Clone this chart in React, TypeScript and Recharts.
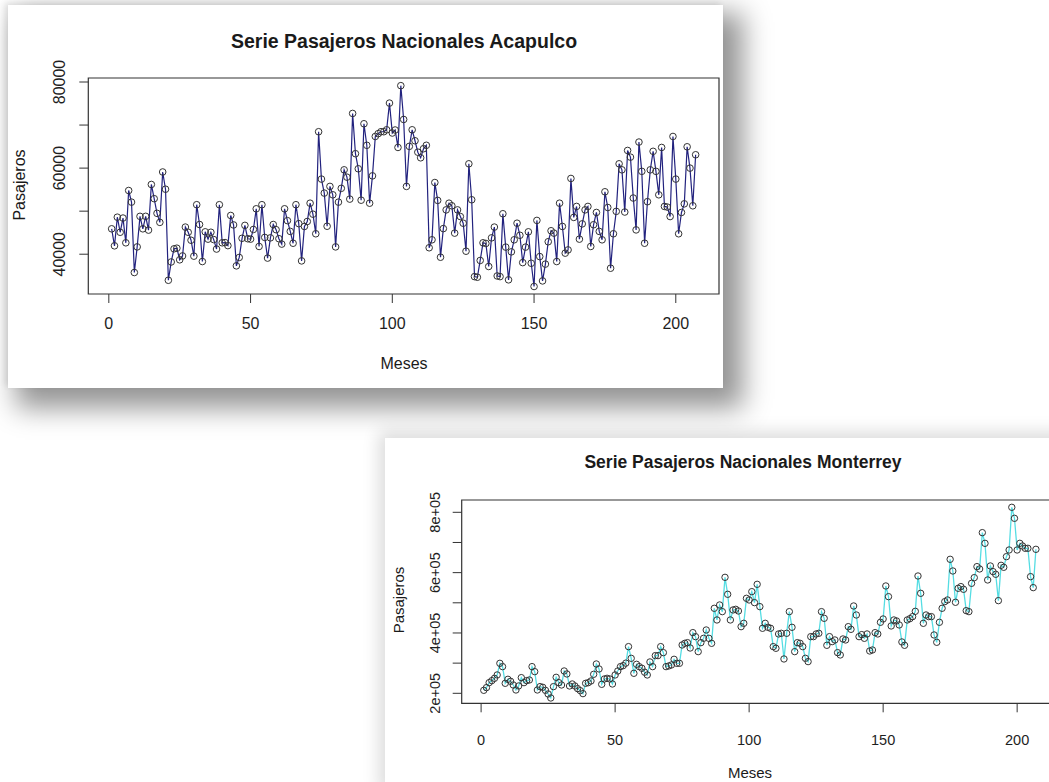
import React from 'react';
import { Line, LineChart, ReferenceArea, XAxis, YAxis } from 'recharts';

// Monthly national passenger series
const acapulco = [
	45900, 41950, 48600, 45100, 48400, 42650, 54800, 52100, 35750, 41700,
	48800, 45900, 48800, 45600, 56200, 52900, 49500, 47400, 59100, 55100,
	33950, 38200, 41250, 41400, 38700, 39600, 46300, 45100, 43250, 39550,
	51500, 46900, 38300, 45200, 43500, 45100, 43400, 41200, 51500, 42650,
	42700, 42000, 49000, 46800, 37300, 39250, 43700, 46700, 43600, 43500,
	45750, 50550, 41800, 51500, 43900, 39100, 43800, 46900, 45700, 43600,
	42350, 50550, 47800, 45300, 42550, 51500, 47100, 38450, 46450, 47600,
	51850, 49300, 44750, 68450, 57450, 54200, 46500, 55750, 53800, 41700,
	52100, 55300, 59600, 57900, 52800, 72700, 63350, 59850, 52550, 70300,
	65300, 51850, 58200, 67350, 68000, 68450, 68450, 68900, 75100, 68150,
	68850, 64800, 79150, 71300, 55750, 65050, 68900, 66350, 63700, 62400,
	64500, 65300, 41500, 43350, 56650, 52500, 39300, 45950, 50300, 51850,
	51250, 44900, 50300, 48750, 47200, 40700, 61000, 52650, 34800, 34650,
	38550, 42650, 42500, 37150, 43800, 46300, 34950, 34800, 49400, 41650,
	34050, 40550, 43350, 47200, 44400, 38050, 41650, 45200, 37900, 32500,
	47850, 39450, 33800, 37700, 42900, 45450, 44900, 38300, 51850, 46450,
	40250, 41000, 57600, 48550, 51100, 43500, 47050, 50300, 51100, 41800,
	46850, 49700, 45300, 43350, 54500, 50850, 36750, 44750, 49950, 61000,
	59600, 49800, 64100, 62550, 53050, 45650, 66050, 59250, 42550, 52200,
	59600, 63900, 59250, 53800, 64800, 51100, 50950, 48750, 67350, 57450,
	44750, 49700, 51700, 64950, 60000, 51250, 63100,
];

const monterrey = [
	209900, 218800, 235300, 242000, 249700, 260800, 299400, 288400, 233100, 246400,
	239800, 227600, 211000, 224300, 251900, 235300, 242000, 244200, 288400, 271800,
	211000, 222100, 219900, 209900, 197800, 184500, 222100, 253000, 235300, 227600,
	274000, 264100, 224300, 230900, 224300, 215500, 208800, 198900, 233100, 235300,
	240900, 263000, 297200, 280700, 229800, 247500, 249700, 247500, 230900, 260800,
	274000, 288400, 291700, 300000, 354700, 316000, 266300, 296100, 288400, 282900,
	270000, 260800, 303900, 288400, 324900, 324900, 354700, 334800, 288400, 290600,
	293900, 312700, 299400, 299400, 360200, 365700, 367900, 350200, 401100, 387800,
	338100, 367900, 382300, 409900, 382300, 365700, 481800, 443100, 492800, 470700,
	584500, 528200, 443100, 476300, 478400, 472900, 420900, 432000, 514900, 509400,
	537000, 500600, 561300, 487300, 415500, 432000, 418800, 415500, 354700, 349200,
	396700, 398900, 313800, 398900, 470700, 418800, 338100, 367900, 365700, 354700,
	316000, 305000, 387800, 387800, 396700, 398900, 470700, 448600, 359100, 387800,
	371300, 376800, 334800, 327100, 380100, 376800, 420900, 412100, 489500, 459600,
	387800, 394500, 382300, 396700, 340300, 343600, 401100, 396700, 435400, 446400,
	555800, 520400, 423200, 443100, 439800, 426600, 370200, 359100, 443100, 447500,
	454200, 471800, 588900, 531500, 432000, 459600, 454200, 454200, 393400, 369100,
	435400, 481800, 503900, 509400, 644200, 605500, 501700, 548100, 553600, 544800,
	474000, 470700, 564600, 583400, 619900, 612200, 732600, 697200, 575700, 622100,
	603300, 594500, 507200, 624300, 617700, 653000, 675100, 816600, 780100, 675100,
	697200, 688400, 680700, 680700, 586700, 550300, 677300,
];

const xTicks = [0, 50, 100, 150, 200];
const acaTicks = [40000, 50000, 60000, 70000, 80000];
const mtyTicks = [200000, 300000, 400000, 500000, 600000, 700000, 800000];

const FONT = '"Liberation Sans", Arial, Helvetica, sans-serif';
const X_DOMAIN: [number, number] = [-7.24, 215.24];
const ACA_DOMAIN: [number, number] = [30760, 80930];
const MTY_DOMAIN: [number, number] = [166850, 840800];

const acaData = acapulco.map((v, i) => ({ mes: i + 1, v }));
const mtyData = monterrey.map((v, i) => ({ mes: i + 1, v }));

// R draws y tick labels turned 90 degrees, reading upwards
function VTick(props: any) {
	const { x, y, payload, fmt, off, size } = props;
	const s = fmt(payload.value);
	if (!s) return <g />;
	const bx = x - off;
	return (
		<text
			x={bx}
			y={y}
			transform={`rotate(-90 ${bx} ${y})`}
			textAnchor="middle"
			fontSize={size}
			fill="#1e1e1e"
			fontFamily={FONT}
		>
			{s}
		</text>
	);
}

function Txt({ x, y, size, bold, rotate, children }: any) {
	return (
		<div
			style={{
				position: 'absolute',
				left: x,
				top: y,
				transform: `translate(-50%, -50%)${rotate ? ' rotate(-90deg)' : ''}`,
				fontFamily: FONT,
				fontSize: size,
				fontWeight: bold ? 700 : 400,
				color: '#1a1a1a',
				whiteSpace: 'nowrap',
				lineHeight: 1,
			}}
		>
			{children}
		</div>
	);
}

export default function App() {
	return (
		<div
			style={{
				position: 'absolute',
				left: 0,
				top: 0,
				width: 1049,
				height: 782,
				overflow: 'hidden',
				background: '#fff',
			}}
		>
			{/* Acapulco screenshot */}
			<div
				style={{
					position: 'absolute',
					left: 8,
					top: 5,
					width: 715,
					height: 383,
					background: '#fff',
					boxShadow: '14px 14px 26px 6px rgba(0,0,0,0.42), -3px -2px 6px rgba(0,0,0,0.1)',
				}}
			>
				<LineChart width={714} height={383} data={acaData} margin={{ top: 73, right: 3, left: 0, bottom: 0 }}>
					<XAxis
						type="number"
						dataKey="mes"
						domain={X_DOMAIN}
						allowDataOverflow
						ticks={xTicks}
						interval={0}
						axisLine={false}
						tickLine={{ stroke: '#333' }}
						tickSize={9}
						tickMargin={15}
						height={94}
						tick={{ fontSize: 16, fill: '#1e1e1e', fontFamily: FONT }}
					/>
					<YAxis
						type="number"
						domain={ACA_DOMAIN}
						allowDataOverflow
						ticks={acaTicks}
						interval={0}
						axisLine={false}
						tickLine={{ stroke: '#333' }}
						tickSize={9}
						tickMargin={0}
						width={80.3}
						tick={(p: any) => (
							<VTick {...p} size={16} off={14.6} fmt={(v: number) => (v % 20000 === 0 ? String(v) : '')} />
						)}
					/>
					<ReferenceArea
						x1={X_DOMAIN[0]}
						x2={X_DOMAIN[1]}
						y1={ACA_DOMAIN[0]}
						y2={ACA_DOMAIN[1]}
						fill="#fff"
						fillOpacity={0}
						stroke="#333"
						strokeWidth={1.2}
					/>
					<Line
						type="linear"
						dataKey="v"
						stroke="#22227e"
						strokeWidth={1.2}
						dot={{ r: 3.3, stroke: '#333', strokeWidth: 1, fill: 'none' }}
						isAnimationActive={false}
					/>
				</LineChart>
			</div>
			<Txt x={404} y={42} size={19.5} bold>
				Serie Pasajeros Nacionales Acapulco
			</Txt>
			<Txt x={20} y={185} size={16} rotate>
				Pasajeros
			</Txt>
			<Txt x={404} y={364} size={16}>
				Meses
			</Txt>

			{/* Monterrey screenshot */}
			<div
				style={{
					position: 'absolute',
					left: 385,
					top: 438,
					width: 700,
					height: 360,
					background: '#fff',
					boxShadow: '-6px -6px 16px rgba(0,0,0,0.14)',
				}}
			>
				<LineChart width={676} height={344} data={mtyData} margin={{ top: 62, right: 3, left: 0, bottom: 0 }}>
					<XAxis
						type="number"
						dataKey="mes"
						domain={X_DOMAIN}
						allowDataOverflow
						ticks={xTicks}
						interval={0}
						axisLine={false}
						tickLine={{ stroke: '#333' }}
						tickSize={9}
						tickMargin={22}
						height={78.7}
						tick={{ fontSize: 14.5, fill: '#1e1e1e', fontFamily: FONT }}
					/>
					<YAxis
						type="number"
						domain={MTY_DOMAIN}
						allowDataOverflow
						ticks={mtyTicks}
						interval={0}
						axisLine={false}
						tickLine={{ stroke: '#333' }}
						tickSize={9}
						tickMargin={0}
						width={76.7}
						tick={(p: any) => (
							<VTick
								{...p}
								size={14.5}
								off={12.5}
								fmt={(v: number) => (v % 200000 === 0 ? `${v / 100000}e+05` : '')}
							/>
						)}
					/>
					<ReferenceArea
						x1={X_DOMAIN[0]}
						x2={X_DOMAIN[1]}
						y1={MTY_DOMAIN[0]}
						y2={MTY_DOMAIN[1]}
						fill="#fff"
						fillOpacity={0}
						stroke="#333"
						strokeWidth={1.2}
					/>
					<Line
						type="linear"
						dataKey="v"
						stroke="#55dde3"
						strokeWidth={1.3}
						dot={{ r: 3.2, stroke: '#333', strokeWidth: 1, fill: 'none' }}
						isAnimationActive={false}
					/>
				</LineChart>
			</div>
			<Txt x={743} y={463} size={17.5} bold>
				Serie Pasajeros Nacionales Monterrey
			</Txt>
			<Txt x={398} y={600} size={15} rotate>
				Pasajeros
			</Txt>
			<Txt x={750} y={772} size={15}>
				Meses
			</Txt>
		</div>
	);
}
